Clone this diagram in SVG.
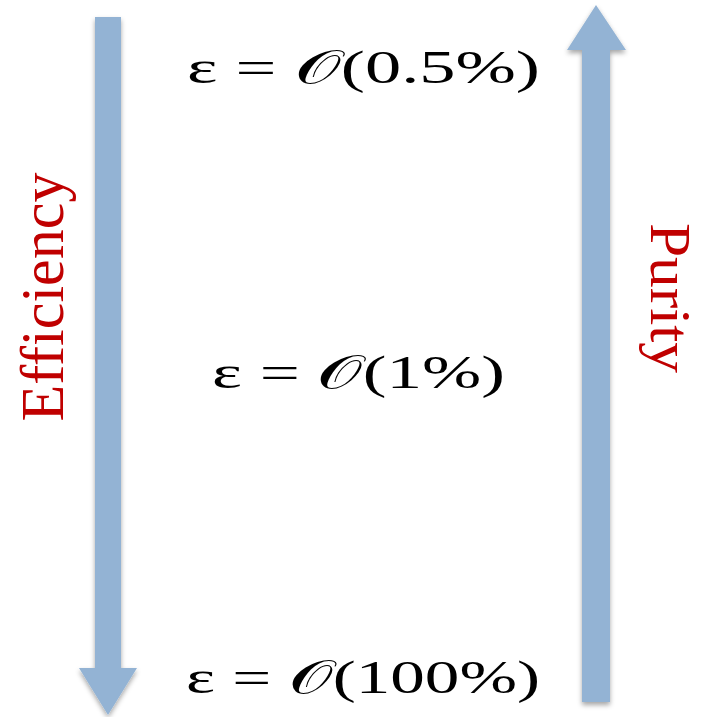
<svg xmlns="http://www.w3.org/2000/svg" width="704" height="717" viewBox="0 0 704 717">
<defs>
<filter id="sh" x="-50%" y="-10%" width="200%" height="120%">
<feDropShadow dx="0" dy="3" stdDeviation="2.5" flood-color="#000" flood-opacity="0.35"/>
</filter>
<style>
.arrow{fill:#93B3D4;filter:url(#sh);}
.lbl{font-family:"Liberation Serif","DejaVu Serif",serif;fill:#C00000;text-anchor:middle;}
.math{font-family:"Liberation Serif","DejaVu Serif",serif;font-size:47px;fill:#000;}
</style>
</defs>
<rect width="704" height="717" fill="#fff"/>
<g id="connectors">
<path id="efficiency-arrow" class="arrow" d="M95,17 H121 V668 H137 L108,715 L79,668 H95 Z"/>
<path id="purity-arrow" class="arrow" d="M596,5 L626,50 H610 V702 H582 V50 H567 Z"/>
</g>
<g id="efficiency-label">
<text class="lbl" font-size="62" transform="translate(63,297) rotate(-90)" textLength="249" lengthAdjust="spacingAndGlyphs">Efficiency</text>
</g>
<g id="purity-label">
<text class="lbl" font-size="58" transform="translate(651,298) rotate(90)" textLength="150" lengthAdjust="spacingAndGlyphs">Purity</text>
</g>
<g id="eps-top">
<text class="math" x="187" y="83" textLength="353" lengthAdjust="spacingAndGlyphs">ε = 𝒪(0.5%)</text>
</g>
<g id="eps-mid">
<text class="math" x="212" y="388" textLength="293" lengthAdjust="spacingAndGlyphs">ε = 𝒪(1%)</text>
</g>
<g id="eps-bottom">
<text class="math" x="186" y="693" textLength="354" lengthAdjust="spacingAndGlyphs">ε = 𝒪(100%)</text>
</g>
</svg>
